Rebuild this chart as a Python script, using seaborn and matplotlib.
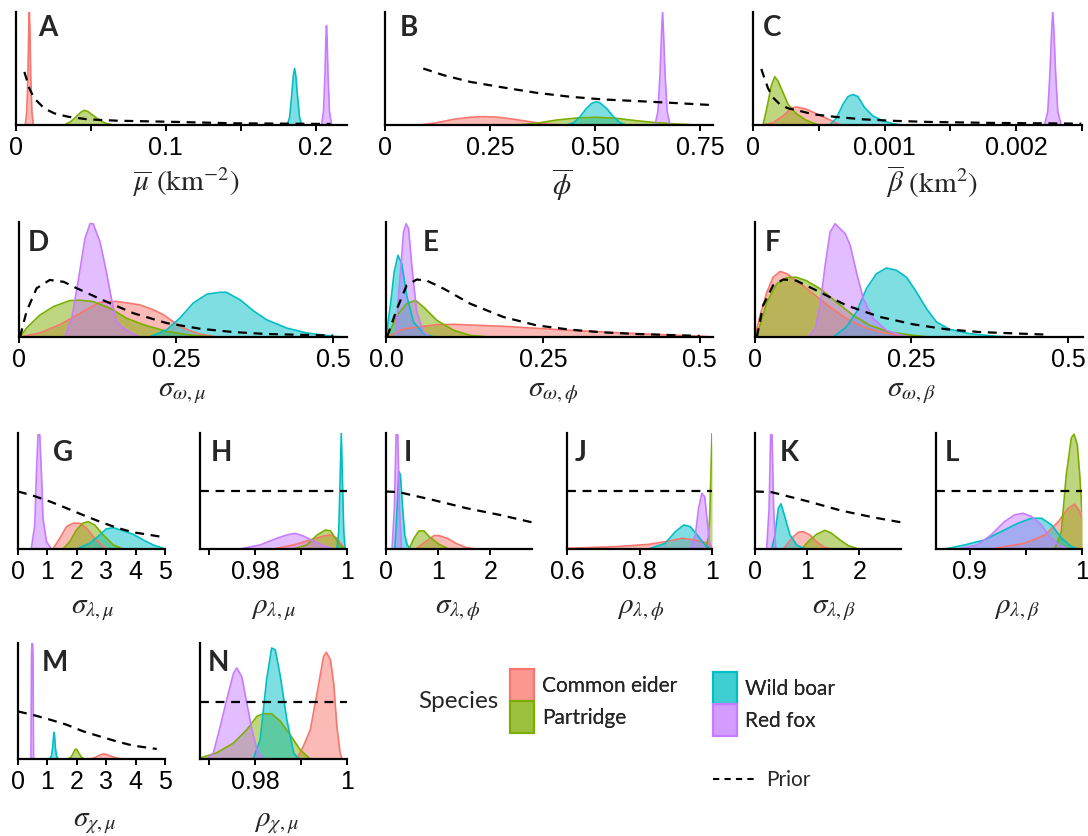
import matplotlib
matplotlib.use("Agg")
import matplotlib.pyplot as plt
import seaborn as sns
from matplotlib.colors import to_rgba
from matplotlib.lines import Line2D
from matplotlib.patches import Patch

species = ["Common eider", "Partridge", "Wild boar", "Red fox"]
palette = ["#F8766D", "#7CAE00", "#00BFC4", "#C77CFF"]

# posterior densities: (x values, height as share of the panel)
A_eider = ([0.0062, 0.0072, 0.0080, 0.0085, 0.0089, 0.0093, 0.0098, 0.0106, 0.0116],
           [0, 0.12, 0.45, 0.85, 1.0, 0.85, 0.45, 0.12, 0])
A_partridge = ([0.032, 0.036, 0.040, 0.043, 0.0455, 0.048, 0.052, 0.056, 0.060, 0.065],
               [0, 0.025, 0.07, 0.11, 0.13, 0.12, 0.08, 0.04, 0.015, 0])
A_boar = ([0.1812, 0.1827, 0.1840, 0.1852, 0.1860, 0.1868, 0.1880, 0.1893, 0.1908],
          [0, 0.07, 0.25, 0.44, 0.5, 0.44, 0.25, 0.07, 0])
A_fox = ([0.2040, 0.2053, 0.2063, 0.2069, 0.2073, 0.2077, 0.2083, 0.2093, 0.2107],
         [0, 0.12, 0.45, 0.78, 0.88, 0.78, 0.45, 0.12, 0])
A_prior = ([0.0056, 0.0089, 0.0122, 0.0189, 0.0256, 0.0344, 0.0478, 0.0678, 0.101, 0.1456, 0.21],
           [0.47, 0.324, 0.235, 0.147, 0.103, 0.074, 0.05, 0.038, 0.029, 0.015, 0.009])

B_eider = ([0.083, 0.123, 0.162, 0.202, 0.234, 0.265, 0.297, 0.329, 0.36, 0.392, 0.424],
           [0, 0.02, 0.05, 0.068, 0.074, 0.07, 0.056, 0.038, 0.02, 0.006, 0])
B_partridge = ([0.313, 0.36, 0.408, 0.456, 0.503, 0.551, 0.598, 0.646, 0.693, 0.741],
               [0, 0.015, 0.044, 0.062, 0.068, 0.059, 0.038, 0.02, 0.009, 0])
B_boar = ([0.432, 0.448, 0.464, 0.479, 0.491, 0.502, 0.511, 0.527, 0.543, 0.559, 0.575],
          [0, 0.02, 0.074, 0.147, 0.19, 0.206, 0.197, 0.147, 0.074, 0.02, 0])
B_fox = ([0.642, 0.649, 0.654, 0.658, 0.660, 0.662, 0.666, 0.671, 0.678],
         [0, 0.12, 0.45, 0.85, 1.0, 0.85, 0.45, 0.12, 0])
B_prior = ([0.091, 0.139, 0.202, 0.281, 0.36, 0.44, 0.519, 0.598, 0.677, 0.78],
           [0.5, 0.441, 0.382, 0.332, 0.285, 0.25, 0.226, 0.212, 0.197, 0.176])

C_eider = ([0.000076, 0.000152, 0.000228, 0.000291, 0.000329, 0.000405, 0.000481, 0.000557, 0.000633, 0.000671],
           [0, 0.02, 0.08, 0.148, 0.16, 0.14, 0.1, 0.06, 0.018, 0])
C_partridge = ([0.000076, 0.000106, 0.000139, 0.000165, 0.00019, 0.000228, 0.000266, 0.000329, 0.000405, 0.000481, 0.000519],
               [0, 0.154, 0.347, 0.427, 0.39, 0.288, 0.184, 0.1, 0.042, 0.006, 0])
C_boar = ([0.000582, 0.000633, 0.000684, 0.000722, 0.00076, 0.000797, 0.000848, 0.000911, 0.000987, 0.001063, 0.001139],
          [0, 0.06, 0.184, 0.252, 0.27, 0.252, 0.154, 0.08, 0.036, 0.012, 0])
C_fox = ([0.002215, 0.002240, 0.002256, 0.002270, 0.002278, 0.002286, 0.002300, 0.002316, 0.002342],
         [0, 0.12, 0.45, 0.85, 1.0, 0.85, 0.45, 0.12, 0])
C_prior = ([0.000063, 0.000089, 0.000114, 0.000152, 0.000203, 0.000266, 0.000354, 0.000456, 0.000633,
            0.000835, 0.001089, 0.001342, 0.001848, 0.002494],
           [0.496, 0.407, 0.326, 0.243, 0.184, 0.148, 0.125, 0.095, 0.071, 0.05, 0.036, 0.027, 0.018, 0.012])

D_eider = ([0.0016, 0.033, 0.065, 0.092, 0.118, 0.129, 0.155, 0.192, 0.214, 0.230, 0.245, 0.261, 0.288, 0.315],
           [0, 0.035, 0.107, 0.19, 0.27, 0.3, 0.31, 0.28, 0.236, 0.193, 0.135, 0.078, 0.026, 0])
D_partridge = ([0.0016, 0.012, 0.033, 0.055, 0.081, 0.097, 0.118, 0.145, 0.171, 0.198, 0.235, 0.267, 0.309],
               [0, 0.078, 0.19, 0.265, 0.317, 0.32, 0.308, 0.25, 0.164, 0.107, 0.049, 0.02, 0])
D_boar = ([0.208, 0.235, 0.256, 0.277, 0.299, 0.320, 0.330, 0.352, 0.373, 0.394, 0.426, 0.458, 0.500, 0.516],
          [0, 0.063, 0.164, 0.294, 0.372, 0.389, 0.389, 0.323, 0.228, 0.15, 0.078, 0.035, 0.006, 0])
D_fox = ([0.073, 0.084, 0.094, 0.105, 0.113, 0.118, 0.129, 0.139, 0.147, 0.155, 0.166, 0.179, 0.192],
         [0, 0.164, 0.48, 0.856, 0.985, 0.985, 0.827, 0.568, 0.337, 0.135, 0.078, 0.035, 0])
D_prior = ([0.0016, 0.012, 0.028, 0.049, 0.071, 0.092, 0.129, 0.182, 0.235, 0.288, 0.341, 0.394, 0.5],
           [0, 0.222, 0.424, 0.496, 0.48, 0.424, 0.331, 0.207, 0.121, 0.072, 0.043, 0.026, 0.012])

E_eider = ([0.002, 0.028, 0.081, 0.108, 0.187, 0.293, 0.40, 0.505, 0.52],
           [0, 0.072, 0.107, 0.11, 0.093, 0.058, 0.029, 0.006, 0])
E_partridge = ([0.002, 0.0175, 0.033, 0.047, 0.06, 0.081, 0.108, 0.134, 0.166],
               [0, 0.188, 0.29, 0.319, 0.26, 0.145, 0.058, 0.014, 0])
E_boar = ([0.0, 0.007, 0.013, 0.019, 0.025, 0.033, 0.044, 0.06, 0.076],
          [0, 0.275, 0.565, 0.71, 0.64, 0.36, 0.13, 0.03, 0])
E_fox = ([0.015, 0.023, 0.028, 0.032, 0.036, 0.041, 0.049, 0.06, 0.07],
         [0, 0.565, 0.913, 0.985, 0.942, 0.623, 0.217, 0.043, 0])
E_prior = ([0.0016, 0.0175, 0.033, 0.049, 0.065, 0.092, 0.134, 0.187, 0.24, 0.293, 0.346, 0.40, 0.50],
           [0, 0.246, 0.45, 0.5, 0.49, 0.42, 0.29, 0.174, 0.101, 0.064, 0.04, 0.026, 0.009])

F_eider = ([0, 0.008, 0.019, 0.029, 0.04, 0.051, 0.066, 0.093, 0.12, 0.146, 0.173, 0.20, 0.237, 0.258],
           [0, 0.188, 0.39, 0.52, 0.57, 0.55, 0.49, 0.377, 0.26, 0.16, 0.087, 0.043, 0.009, 0])
F_partridge = ([0, 0.008, 0.019, 0.035, 0.051, 0.066, 0.082, 0.104, 0.13, 0.157, 0.184, 0.215, 0.253, 0.279],
               [0, 0.1, 0.304, 0.464, 0.516, 0.52, 0.49, 0.42, 0.304, 0.188, 0.1, 0.043, 0.014, 0])
F_boar = ([0.125, 0.146, 0.162, 0.178, 0.194, 0.21, 0.226, 0.242, 0.258, 0.274, 0.29, 0.311, 0.343, 0.386, 0.412],
          [0, 0.087, 0.217, 0.42, 0.55, 0.6, 0.58, 0.52, 0.39, 0.246, 0.13, 0.067, 0.029, 0.006, 0])
F_fox = ([0.085, 0.096, 0.104, 0.112, 0.12, 0.128, 0.136, 0.144, 0.152, 0.162, 0.173, 0.189, 0.21, 0.237, 0.247],
         [0, 0.072, 0.275, 0.623, 0.913, 0.985, 0.94, 0.9, 0.8, 0.565, 0.333, 0.16, 0.058, 0.009, 0])
F_prior = ([0.003, 0.013, 0.029, 0.045, 0.066, 0.098, 0.146, 0.20, 0.253, 0.306, 0.359, 0.439, 0.47],
           [0, 0.275, 0.45, 0.5, 0.49, 0.405, 0.275, 0.174, 0.11, 0.067, 0.043, 0.026, 0.02])

G_eider = ([1.19, 1.42, 1.65, 1.875, 2.1, 2.33, 2.56, 2.78, 3.0],
           [0, 0.092, 0.193, 0.222, 0.222, 0.179, 0.107, 0.049, 0])
G_partridge = ([1.53, 1.76, 1.99, 2.2, 2.39, 2.61, 2.9, 3.24, 3.58],
               [0, 0.063, 0.164, 0.222, 0.236, 0.207, 0.121, 0.035, 0])
G_boar = ([1.99, 2.44, 2.78, 3.0, 3.24, 3.58, 3.92, 4.26, 4.6, 5.0],
          [0, 0.049, 0.121, 0.173, 0.184, 0.156, 0.127, 0.078, 0.035, 0])
G_fox = ([0.45, 0.57, 0.625, 0.68, 0.74, 0.80, 0.85, 0.97, 1.14],
         [0, 0.207, 0.64, 0.985, 0.985, 0.64, 0.265, 0.063, 0])
G_prior = ([0, 0.51, 1.08, 1.65, 2.2, 2.78, 3.35, 3.92, 4.49, 5.0],
           [0.496, 0.46, 0.41, 0.352, 0.294, 0.236, 0.184, 0.144, 0.121, 0.1])

H_eider = ([0.984, 0.9884, 0.992, 0.9949, 0.9964, 0.9978, 0.9989, 0.9996],
           [0, 0.035, 0.078, 0.112, 0.121, 0.092, 0.035, 0])
H_partridge = ([0.9884, 0.9913, 0.9935, 0.9953, 0.9964, 0.9975, 0.9985, 0.9996],
               [0, 0.035, 0.121, 0.164, 0.156, 0.092, 0.029, 0])
H_boar = ([0.9978, 0.9982, 0.9985, 0.99876, 0.9990, 0.9993, 0.9996],
          [0, 0.15, 0.6, 1.0, 0.6, 0.15, 0])
H_fox = ([0.9767, 0.9811, 0.9847, 0.9869, 0.9887, 0.9905, 0.9927, 0.9949, 0.9971],
         [0, 0.035, 0.092, 0.121, 0.135, 0.112, 0.069, 0.029, 0])
H_prior = ([0.968, 1.0], [0.496, 0.496])

I_eider = ([0.57, 0.76, 0.92, 1.02, 1.18, 1.34, 1.54, 1.73],
           [0, 0.063, 0.115, 0.115, 0.092, 0.049, 0.012, 0])
I_partridge = ([0.44, 0.535, 0.632, 0.73, 0.826, 1.02, 1.21],
               [0, 0.092, 0.156, 0.156, 0.107, 0.04, 0])
I_boar = ([0.168, 0.213, 0.245, 0.277, 0.31, 0.36, 0.406, 0.47],
          [0, 0.35, 0.668, 0.64, 0.41, 0.121, 0.035, 0])
I_fox = ([0.116, 0.16, 0.194, 0.226, 0.258, 0.297],
         [0, 0.35, 0.985, 0.985, 0.35, 0])
I_prior = ([0, 0.245, 0.89, 1.54, 2.18, 2.8],
           [0.496, 0.49, 0.424, 0.352, 0.294, 0.23])

J_eider = ([0.6, 0.733, 0.825, 0.871, 0.917, 0.954, 0.99, 1.0],
           [0.006, 0.02, 0.04, 0.063, 0.092, 0.078, 0.049, 0])
J_partridge = ([0.982, 0.99, 0.994, 0.997, 1.0],
               [0, 0.1, 0.3, 0.65, 1.0])
J_boar = ([0.825, 0.871, 0.899, 0.922, 0.94, 0.959, 0.977, 0.995],
          [0, 0.049, 0.15, 0.207, 0.193, 0.121, 0.049, 0])
J_fox = ([0.94, 0.954, 0.963, 0.972, 0.98, 0.986, 0.993, 1.0],
         [0, 0.121, 0.35, 0.48, 0.45, 0.265, 0.063, 0])
J_prior = ([0.6, 1.0], [0.496, 0.496])

K_eider = ([0.543, 0.703, 0.83, 0.927, 1.054, 1.18, 1.34, 1.47],
           [0, 0.092, 0.144, 0.15, 0.121, 0.063, 0.012, 0])
K_partridge = ([0.895, 1.02, 1.18, 1.34, 1.47, 1.63, 1.79, 1.98],
               [0, 0.063, 0.127, 0.161, 0.135, 0.078, 0.029, 0])
K_boar = ([0.32, 0.383, 0.447, 0.498, 0.562, 0.671, 0.8, 0.958],
          [0, 0.121, 0.35, 0.39, 0.294, 0.121, 0.035, 0])
K_fox = ([0.224, 0.27, 0.30, 0.326, 0.358, 0.396],
         [0, 0.35, 0.985, 0.985, 0.35, 0])
K_prior = ([0, 0.32, 1.02, 1.66, 2.3, 2.8],
           [0.496, 0.49, 0.41, 0.33, 0.27, 0.23])

L_eider = ([0.919, 0.949, 0.967, 0.979, 0.9875, 0.9935, 0.998, 1.0],
           [0, 0.049, 0.121, 0.236, 0.35, 0.386, 0.323, 0.265])
L_partridge = ([0.9757, 0.9816, 0.986, 0.9905, 0.9929, 0.9958, 0.998, 1.0],
               [0, 0.15, 0.64, 0.957, 0.99, 0.9, 0.64, 0.32])
L_boar = ([0.878, 0.8955, 0.913, 0.928, 0.943, 0.955, 0.964, 0.973, 0.982, 0.9905, 0.9964],
          [0, 0.035, 0.078, 0.15, 0.222, 0.265, 0.265, 0.207, 0.092, 0.02, 0])
L_fox = ([0.8896, 0.907, 0.919, 0.931, 0.94, 0.9475, 0.955, 0.964, 0.971, 0.979, 0.9875],
         [0, 0.035, 0.121, 0.236, 0.294, 0.308, 0.28, 0.207, 0.107, 0.035, 0])
L_prior = ([0.87, 1.0], [0.496, 0.496])

M_eider = ([2.44, 2.6, 2.75, 2.85, 2.92, 3.0, 3.15, 3.35, 3.58],
           [0, 0.01, 0.03, 0.041, 0.043, 0.04, 0.025, 0.008, 0])
M_partridge = ([1.70, 1.80, 1.88, 1.93, 1.97, 2.01, 2.07, 2.16, 2.27],
               [0, 0.015, 0.05, 0.078, 0.086, 0.078, 0.05, 0.015, 0])
M_boar = ([1.08, 1.14, 1.18, 1.21, 1.227, 1.245, 1.27, 1.31, 1.36],
          [0, 0.03, 0.1, 0.2, 0.23, 0.2, 0.1, 0.03, 0])
M_fox = ([0.44, 0.46, 0.475, 0.495, 0.51, 0.53],
         [0, 0.9, 1.0, 1.0, 0.9, 0])
M_prior = ([0, 0.51, 1.08, 1.65, 2.2, 2.78, 3.35, 3.92, 4.49, 4.72],
           [0.41, 0.38, 0.34, 0.296, 0.24, 0.195, 0.152, 0.115, 0.095, 0.086])

N_eider = ([0.9891, 0.9905, 0.992, 0.9935, 0.9949, 0.9955, 0.9964, 0.9971, 0.9978, 0.9985, 0.9989],
           [0, 0.11, 0.25, 0.57, 0.885, 0.92, 0.856, 0.655, 0.28, 0.052, 0])
N_partridge = ([0.968, 0.9716, 0.9753, 0.9782, 0.9804, 0.9818, 0.9836, 0.9855, 0.9876, 0.9898, 0.992],
               [0.009, 0.052, 0.138, 0.253, 0.368, 0.39, 0.39, 0.325, 0.21, 0.08, 0])
N_boar = ([0.9796, 0.9811, 0.9825, 0.9836, 0.9844, 0.9855, 0.9869, 0.9884, 0.9895],
          [0, 0.167, 0.684, 0.957, 0.94, 0.71, 0.34, 0.052, 0])
N_fox = ([0.9695, 0.9709, 0.9724, 0.9738, 0.9753, 0.976, 0.9771, 0.9782, 0.9793, 0.9804, 0.9818],
         [0, 0.052, 0.28, 0.51, 0.74, 0.785, 0.71, 0.48, 0.253, 0.08, 0])
N_prior = ([0.968, 1.0], [0.49, 0.49])

# axis labels and ticks
xlabels = {
    "A": r"$\overline{\mu}\ (\mathrm{km}^{-2})$", "B": r"$\overline{\phi}$",
    "C": r"$\overline{\beta}\ (\mathrm{km}^{2})$",
    "D": r"$\sigma_{\omega,\mu}$", "E": r"$\sigma_{\omega,\phi}$", "F": r"$\sigma_{\omega,\beta}$",
    "G": r"$\sigma_{\lambda,\mu}$", "H": r"$\rho_{\lambda,\mu}$",
    "I": r"$\sigma_{\lambda,\phi}$", "J": r"$\rho_{\lambda,\phi}$",
    "K": r"$\sigma_{\lambda,\beta}$", "L": r"$\rho_{\lambda,\beta}$",
    "M": r"$\sigma_{\chi,\mu}$", "N": r"$\rho_{\chi,\mu}$",
}
tick_values = {
    "A": [0, 0.05, 0.1, 0.15, 0.2], "B": [0, 0.25, 0.5, 0.75],
    "C": [0, 0.0005, 0.001, 0.0015, 0.002, 0.0025],
    "D": [0, 0.25, 0.5], "E": [0, 0.25, 0.5], "F": [0, 0.25, 0.5],
    "G": [0, 1, 2, 3, 4, 5], "H": [0.97, 0.98, 0.99, 1.0], "I": [0, 1, 2],
    "J": [0.6, 0.8, 1.0], "K": [0, 1, 2], "L": [0.9, 0.95, 1.0],
    "M": [0, 1, 2, 3, 4, 5], "N": [0.97, 0.98, 0.99, 1.0],
}
tick_text = {
    "A": ["0", "", "0.1", "", "0.2"], "B": ["0", "0.25", "0.50", "0.75"],
    "C": ["0", "", "0.001", "", "0.002", ""],
    "D": ["0", "0.25", "0.5"], "E": ["0.0", "0.25", "0.5"], "F": ["0", "0.25", "0.5"],
    "G": ["0", "1", "2", "3", "4", "5"], "H": ["", "0.98", "", "1"], "I": ["0", "1", "2"],
    "J": ["0.6", "0.8", "1"], "K": ["0", "1", "2"], "L": ["0.9", "", "1"],
    "M": ["0", "1", "2", "3", "4", "5"], "N": ["", "0.98", "", "1"],
}
x_ranges = {
    "A": (0, 0.221), "B": (0, 0.78), "C": (0, 0.0025), "D": (0, 0.522), "E": (0, 0.521),
    "F": (0, 0.524), "G": (0, 5), "H": (0.968, 1.0), "I": (0, 2.8), "J": (0.6, 1.0),
    "K": (0, 2.8), "L": (0.87, 1.0), "M": (0, 5), "N": (0.968, 1.0),
}

panel_curves = {
    "A": (A_eider, A_partridge, A_boar, A_fox, A_prior),
    "B": (B_eider, B_partridge, B_boar, B_fox, B_prior),
    "C": (C_eider, C_partridge, C_boar, C_fox, C_prior),
    "D": (D_eider, D_partridge, D_boar, D_fox, D_prior),
    "E": (E_eider, E_partridge, E_boar, E_fox, E_prior),
    "F": (F_eider, F_partridge, F_boar, F_fox, F_prior),
    "G": (G_eider, G_partridge, G_boar, G_fox, G_prior),
    "H": (H_eider, H_partridge, H_boar, H_fox, H_prior),
    "I": (I_eider, I_partridge, I_boar, I_fox, I_prior),
    "J": (J_eider, J_partridge, J_boar, J_fox, J_prior),
    "K": (K_eider, K_partridge, K_boar, K_fox, K_prior),
    "L": (L_eider, L_partridge, L_boar, L_fox, L_prior),
    "M": (M_eider, M_partridge, M_boar, M_fox, M_prior),
    "N": (N_eider, N_partridge, N_boar, N_fox, N_prior),
}

# layout in pixels: axes (left, right, top, bottom), panel letter (left, top), x label centre
W, H = 1088, 836
boxes = {
    "A": (16, 347, 12, 125), "B": (385, 713, 12, 125), "C": (753, 1082, 12, 125),
    "D": (19, 347, 222, 337), "E": (386, 713, 222, 337), "F": (755, 1083, 222, 337),
    "G": (18, 165, 433, 549), "H": (200, 347, 433, 549), "I": (386, 532, 433, 549),
    "J": (567, 712, 433, 549), "K": (755, 901, 433, 549), "L": (936, 1082, 433, 549),
    "M": (18, 165, 643, 759), "N": (200, 347, 643, 759),
}
letter_pos = {
    "A": (38, 15), "B": (400, 15), "C": (763, 15), "D": (28, 230), "E": (423, 230),
    "F": (765, 230), "G": (53, 440), "H": (211, 440), "I": (404, 440), "J": (575, 440),
    "K": (780, 440), "L": (945, 440), "M": (42, 650), "N": (208, 650),
}
label_pos = {
    "A": (186, 182), "B": (562, 185), "C": (932, 182), "D": (182, 392), "E": (553, 392),
    "F": (911, 392), "G": (93, 609), "H": (274, 609), "I": (458, 609), "J": (641, 609),
    "K": (834, 609), "L": (1017, 609), "M": (95, 822), "N": (277, 822),
}

sns.set_theme(style="ticks")
plt.rcParams["font.family"] = ["Liberation Sans", "DejaVu Sans"]
plt.rcParams["mathtext.fontset"] = "stix"

fig = plt.figure(figsize=(W / 100, H / 100), dpi=100)

for key, curves in panel_curves.items():
    x0, x1, yt, yb = boxes[key]
    ax = fig.add_axes([x0 / W, 1 - yb / H, (x1 - x0) / W, (yb - yt) / H])
    for (xs, ys), col in zip(curves[:4], palette):
        ax.fill_between(xs, 0, ys, color=col, alpha=0.5, lw=0)
        sns.lineplot(x=xs, y=ys, ax=ax, color=col, lw=1.2, estimator=None, sort=False)
    px, py = curves[4]
    sns.lineplot(x=px, y=py, ax=ax, color="black", lw=1.6, linestyle=(0, (4, 3)),
                 estimator=None, sort=False)
    ax.set_xlim(*x_ranges[key])
    ax.set_ylim(0, 1)
    ax.set_yticks([])
    ax.set_xticks(tick_values[key])
    ax.set_xticklabels(tick_text[key])
    ax.tick_params(axis="x", direction="out", length=4, width=1.4, labelsize=18, pad=4,
                   colors="black")
    for side in ("top", "right"):
        ax.spines[side].set_visible(False)
    for side in ("left", "bottom"):
        ax.spines[side].set_linewidth(1.6)
        ax.spines[side].set_color("black")
    ax.set_xlabel("")
    ax.set_ylabel("")
    lx, ly = label_pos[key]
    fig.text(lx / W, 1 - ly / H, xlabels[key], fontsize=21, ha="center", va="center")
    tx, ty = letter_pos[key]
    fig.text(tx / W, 1 - ty / H, key, fontsize=20, fontweight="bold", family="Lato",
             ha="left", va="top")

# legend
legend_font = {"family": "Lato", "size": 15}
fig.text(458 / W, 1 - 702 / H, "Species", fontsize=17.5, family="Lato", ha="center", va="center")
handles = [Patch(facecolor=to_rgba(c, 0.5), edgecolor=c, lw=1.5) for c in palette]
for idx, (lx, ly) in enumerate([(510, 669), (713, 672)]):
    leg = fig.legend(handles[2 * idx:2 * idx + 2], species[2 * idx:2 * idx + 2],
                     loc="upper left", bbox_to_anchor=(lx / W, 1 - ly / H), frameon=False,
                     prop=legend_font, handlelength=1.15, handleheight=1.99, labelspacing=0.0,
                     handletextpad=0.38, borderpad=0, borderaxespad=0)
    fig.add_artist(leg)
prior_handle = Line2D([], [], color="black", lw=1.5, linestyle=(0, (3, 2.5)))
fig.legend([prior_handle], ["Prior"], loc="center left", bbox_to_anchor=(713 / W, 1 - 780 / H),
           frameon=False, prop=legend_font, handlelength=2.0, handletextpad=0.53,
           borderpad=0, borderaxespad=0)

fig.savefig("out.png", dpi=100)
